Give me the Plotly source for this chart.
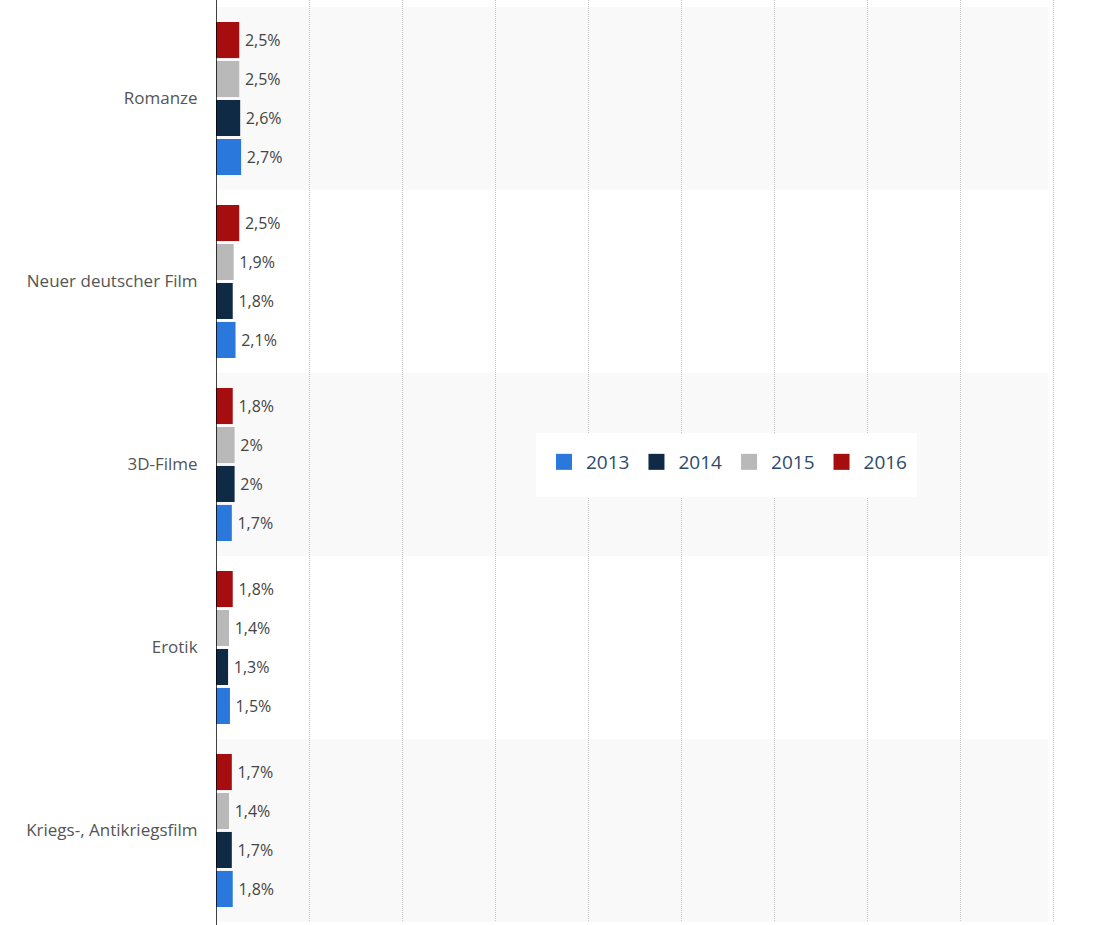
import plotly.graph_objects as go

categories = ["Romanze", "Neuer deutscher Film", "3D-Filme", "Erotik", "Kriegs-, Antikriegsfilm"]
years = ["2013", "2014", "2015", "2016"]
v2013 = [2.7, 2.1, 1.7, 1.5, 1.8]
v2014 = [2.6, 1.8, 2.0, 1.3, 1.7]
v2015 = [2.5, 1.9, 2.0, 1.4, 1.4]
v2016 = [2.5, 2.5, 1.8, 1.8, 1.7]
series = [v2013, v2014, v2015, v2016]
colors = ["#2a78dc", "#0e2a45", "#b9b9b9", "#a50d0f"]

def fmt(v):
    return ("%g" % v).replace(".", ",") + "%"

W, H = 1115, 925
ml, mr, mt, mb = 216, 60, 0, 3
cat_px = 183.0
plot_h = H - mt - mb
n = len(categories)
top_extra = plot_h / cat_px - n

order = list(reversed(categories))  # bottom to top

fig = go.Figure()
for name, vals, col in zip(years, series, colors):
    fig.add_trace(go.Bar(
        y=categories, x=vals, orientation="h", name=name,
        marker=dict(color=col, line=dict(width=0)),
        text=["\u2009" + fmt(v) for v in vals], textposition="outside",
        textfont=dict(family="Open Sans", size=16, color="#444444"),
        cliponaxis=False, showlegend=False, legendgroup=name,
    ))
for name, col in zip(years, colors):
    fig.add_trace(go.Scatter(
        x=[None], y=[None], mode="markers", name=name, legendgroup=name,
        marker=dict(symbol="square", size=20, color=col),
        showlegend=True,
    ))

shapes = []
for i, c in enumerate(categories):
    if i % 2 == 0:
        idx = order.index(c)
        shapes.append(dict(type="rect", xref="paper", yref="y",
                           x0=0.001, x1=0.992, y0=idx - 0.5, y1=idx + 0.5,
                           fillcolor="#f9f9f9", line=dict(width=0), layer="below"))
x_to_paper = lambda px: (px - ml) / (W - ml - mr)
y_to_paper = lambda py: 1 - (py - mt) / plot_h
shapes.append(dict(type="rect", xref="paper", yref="paper",
                   x0=x_to_paper(536), x1=x_to_paper(917),
                   y0=y_to_paper(497), y1=y_to_paper(433),
                   fillcolor="white", line=dict(width=0), layer="above"))
shapes.append(dict(type="line", xref="x", yref="paper", x0=0, x1=0,
                   y0=y_to_paper(H), y1=1, line=dict(color="#000000", width=1.5)))

fig.update_layout(
    width=W, height=H,
    margin=dict(l=ml, r=mr, t=mt, b=mb),
    paper_bgcolor="white", plot_bgcolor="white",
    barmode="group", bargap=0.148, bargroupgap=0.075,
    font=dict(family="Open Sans", color="#555555"),
    shapes=shapes,
    showlegend=True,
    legend=dict(orientation="h", x=x_to_paper(727), y=y_to_paper(462),
                xanchor="center", yanchor="middle", bgcolor="rgba(0,0,0,0)",
                font=dict(family="Open Sans", size=19, color="#2c4a6a"),
                traceorder="normal", itemsizing="trace", itemwidth=34),
    xaxis=dict(range=[0, 90.2], showgrid=True, gridcolor="#c4c4c4", griddash="1px,1px",
               gridwidth=1, zeroline=False, showticklabels=False, dtick=10,
               fixedrange=True),
    yaxis=dict(categoryorder="array", categoryarray=order,
               range=[-0.5, n - 0.5 + top_extra], showgrid=False, zeroline=False,
               showline=False, ticks="outside", ticklen=14, tickcolor="rgba(0,0,0,0)",
               tickfont=dict(family="Open Sans", size=17, color="#555555"),
               fixedrange=True),
)

fig.write_html("out.html")
